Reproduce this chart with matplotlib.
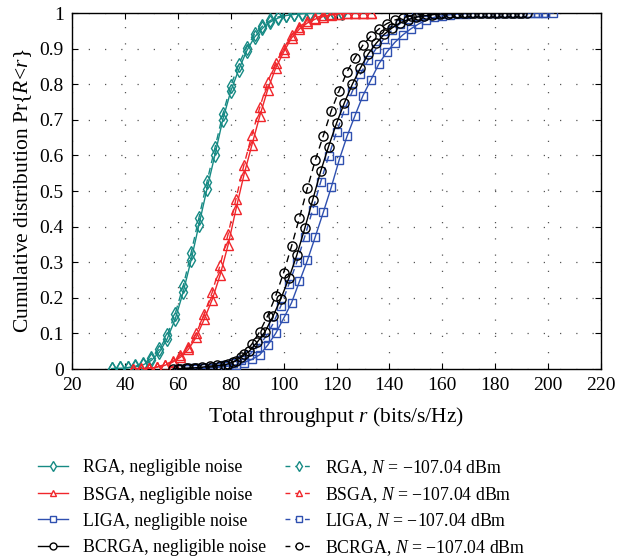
import matplotlib
matplotlib.use("Agg")
import matplotlib.pyplot as plt
from matplotlib.lines import Line2D

plt.rcParams['font.family'] = ['Liberation Serif', 'DejaVu Serif']
plt.rcParams['mathtext.fontset'] = 'custom'
plt.rcParams['mathtext.rm'] = 'Liberation Serif'
plt.rcParams['mathtext.it'] = 'Liberation Serif:italic'

# ---------------- data ----------------
rga_x = [35, 38, 41, 44, 47, 50, 53, 56, 59, 62, 65, 68, 71, 74, 77, 80, 83, 86, 89, 92,
         95, 98, 101, 104, 107, 110, 113, 116, 119, 122]
rga_solid = [0.001, 0.002, 0.003, 0.006, 0.012, 0.024, 0.047, 0.085, 0.140, 0.215, 0.305,
             0.405, 0.505, 0.600, 0.700, 0.780, 0.840, 0.893, 0.932, 0.957, 0.975, 0.986,
             0.993, 0.996, 0.998, 0.999, 0.9995, 1.0, 1.0, 1.0]
rga_dash = [0.001, 0.002, 0.004, 0.008, 0.015, 0.030, 0.055, 0.095, 0.155, 0.232, 0.325,
            0.425, 0.525, 0.620, 0.715, 0.795, 0.855, 0.903, 0.940, 0.963, 0.979, 0.989,
            0.995, 0.997, 0.999, 1.0, 1.0, 1.0, 1.0, 1.0]

bsga_x = [43, 46, 49, 52, 55, 58, 61, 64, 67, 70, 73, 76, 79, 82, 85, 88, 91, 94, 97, 100,
          103, 106, 109, 112, 115, 118, 121, 124, 127, 130, 133]
bsga_solid = [0.001, 0.001, 0.002, 0.005, 0.010, 0.019, 0.033, 0.055, 0.090, 0.140, 0.195,
              0.264, 0.348, 0.449, 0.545, 0.629, 0.711, 0.785, 0.845, 0.890, 0.930, 0.955,
              0.972, 0.983, 0.990, 0.995, 0.998, 0.999, 1.0, 1.0, 1.0]
bsga_dash = [0.001, 0.002, 0.003, 0.006, 0.012, 0.022, 0.038, 0.063, 0.100, 0.155, 0.215,
             0.292, 0.378, 0.478, 0.573, 0.657, 0.735, 0.807, 0.860, 0.900, 0.938, 0.962,
             0.977, 0.987, 0.993, 0.996, 0.998, 0.999, 1.0, 1.0, 1.0]

liga_x_solid = [61, 64, 67, 70, 73, 76, 79, 82, 85, 88, 91, 94, 97, 100, 103, 106, 109, 112,
                115, 118, 121, 124, 127, 130, 133, 136, 139, 142, 145, 148, 151, 154, 157,
                160, 163, 166, 169, 172, 175, 178, 181, 184, 187, 190, 193, 196, 199, 202]
liga_solid = [0.0, 0.0005, 0.001, 0.002, 0.003, 0.005, 0.008, 0.012, 0.018, 0.027, 0.040,
              0.067, 0.100, 0.142, 0.186, 0.246, 0.305, 0.372, 0.440, 0.510, 0.587, 0.654,
              0.712, 0.768, 0.812, 0.857, 0.890, 0.917, 0.938, 0.955, 0.969, 0.980, 0.988,
              0.992, 0.995, 0.997, 0.998, 0.999, 0.9995, 1.0, 1.0, 1.0, 1.0, 1.0, 1.0, 1.0,
              1.0, 1.0]
liga_x_dash = [60, 63, 66, 69, 72, 75, 78, 81, 84, 87, 90, 93, 96, 99, 102, 105, 108, 111,
               114, 117, 120, 123, 126, 129, 132, 135, 138, 141, 144, 147, 150, 153, 156,
               159, 162, 165, 168, 171, 174, 177, 180, 183, 186, 189, 192, 195, 198]
liga_dash = [0.0, 0.001, 0.002, 0.003, 0.004, 0.006, 0.010, 0.016, 0.026, 0.040, 0.060,
             0.088, 0.127, 0.178, 0.238, 0.300, 0.372, 0.447, 0.525, 0.597, 0.665, 0.728,
             0.780, 0.828, 0.868, 0.900, 0.928, 0.952, 0.970, 0.982, 0.989, 0.993, 0.996,
             0.998, 0.999, 0.9995, 1.0, 1.0, 1.0, 1.0, 1.0, 1.0, 1.0, 1.0, 1.0, 1.0, 1.0]

bcrga_x_solid = [60, 63, 66, 69, 72, 75, 78, 81, 84, 87, 90, 93, 96, 99, 102, 105, 108, 111,
                 114, 117, 120, 123, 126, 129, 132, 135, 138, 141, 144, 147, 150, 153, 156,
                 159, 162, 165, 168, 171, 174, 177, 180, 183, 186, 189, 192]
bcrga_solid = [0.001, 0.002, 0.003, 0.005, 0.008, 0.010, 0.012, 0.020, 0.033, 0.050, 0.075,
               0.105, 0.148, 0.198, 0.255, 0.320, 0.395, 0.475, 0.555, 0.625, 0.690, 0.748,
               0.800, 0.845, 0.885, 0.915, 0.940, 0.958, 0.972, 0.981, 0.988, 0.992, 0.995,
               0.997, 0.998, 0.999, 1.0, 1.0, 1.0, 1.0, 1.0, 1.0, 1.0, 1.0, 1.0]
bcrga_x_dash = [58, 61, 64, 67, 70, 73, 76, 79, 82, 85, 88, 91, 94, 97, 100, 103, 106, 109,
                112, 115, 118, 121, 124, 127, 130, 133, 136, 139, 142, 145, 148, 151, 154,
                157, 160, 163, 166, 169, 172, 175, 178, 181, 184, 187, 190]
bcrga_dash = [0.001, 0.001, 0.002, 0.003, 0.004, 0.006, 0.009, 0.014, 0.023, 0.043, 0.070,
              0.105, 0.150, 0.205, 0.270, 0.345, 0.425, 0.508, 0.587, 0.655, 0.725, 0.782,
              0.835, 0.875, 0.910, 0.935, 0.955, 0.970, 0.980, 0.987, 0.992, 0.995, 0.997,
              0.998, 0.999, 1.0, 1.0, 1.0, 1.0, 1.0, 1.0, 1.0, 1.0, 1.0, 1.0]

x_ticks = [20, 40, 60, 80, 100, 120, 140, 160, 180, 200, 220]
y_ticks = [0, 0.1, 0.2, 0.3, 0.4, 0.5, 0.6, 0.7, 0.8, 0.9, 1]
y_tick_labels = ['0', '0.1', '0.2', '0.3', '0.4', '0.5', '0.6', '0.7', '0.8', '0.9', '1']

names = ['RGA', 'BSGA', 'LIGA', 'BCRGA']
colors = ['#168a84', '#f0262b', '#2f50b0', '#000000']
markers = ['d', '^', 's', 'o']
msizes = [7.5, 7.0, 5.6, 6.6]

solid_series = [(rga_x, rga_solid), (bsga_x, bsga_solid), (liga_x_solid, liga_solid),
                (bcrga_x_solid, bcrga_solid)]
dash_series = [(rga_x, rga_dash), (bsga_x, bsga_dash), (liga_x_dash, liga_dash),
               (bcrga_x_dash, bcrga_dash)]

# ---------------- figure ----------------
W, H = 619, 560
fig = plt.figure(figsize=(W / 100, H / 100), dpi=100)
ax = fig.add_axes([72 / W, 1 - 369 / H, (601 - 72) / W, (369 - 13) / H])

dash_style = (0, (5, 3.5))
for i in range(4):
    xs, ys = dash_series[i]
    ax.plot(xs, ys, color=colors[i], lw=1.0, linestyle=dash_style, marker=markers[i],
            ms=msizes[i], mfc='none', mec=colors[i], mew=1.0, zorder=3)
    xs, ys = solid_series[i]
    ax.plot(xs, ys, color=colors[i], lw=1.0, linestyle='-', marker=markers[i],
            ms=msizes[i], mfc='none', mec=colors[i], mew=1.0, zorder=3)

ax.set_xlim(20, 220)
ax.set_ylim(0, 1)
ax.set_xticks(x_ticks)
ax.set_yticks(y_ticks)
ax.set_yticklabels(y_tick_labels)
ax.tick_params(direction='in', top=True, right=True, length=4, width=0.8,
               labelsize=14, pad=6)
ax.grid(True, color='#555555', linewidth=0.9, linestyle=(0, (1, 12)))
for s in ax.spines.values():
    s.set_linewidth(1.0)

ax.set_xlabel(r'Total throughput $r$ (bits/s/Hz)', fontsize=15.5, labelpad=8)
ax.set_ylabel(r'Cumulative distribution Pr$\{R\!<\!r\}$', fontsize=15.5, labelpad=4)

# ---------------- manual legend ----------------
def fx(px):
    return px / W

def fy(py):
    return 1 - py / H

row_y = [466, 493, 519, 546]
col_defs = [
    (38, 68, 83, '-', '{}, negligible noise'),
    (285, 313, 325, (0, (3.5, 3.5)), '{}, $N$ = −107.04 dBm'),
]
for c, (hx0, hx1, tx, ls, fmt) in enumerate(col_defs):
    for i in range(4):
        y = fy(row_y[i])
        ln = Line2D([fx(hx0), fx((hx0 + hx1) / 2), fx(hx1)], [y, y, y],
                    transform=fig.transFigure, color=colors[i], lw=1.0, linestyle=ls)
        fig.add_artist(ln)
        mk = Line2D([fx((hx0 + hx1) / 2)], [y], transform=fig.transFigure,
                    linestyle='none', marker=markers[i], ms=5, mfc='white',
                    mec=colors[i], mew=1.0)
        fig.add_artist(mk)
        fig.text(fx(tx), y, fmt.format(names[i]), fontsize=12.8, ha='left',
                 va='center_baseline')

fig.savefig('out.png', dpi=100)
